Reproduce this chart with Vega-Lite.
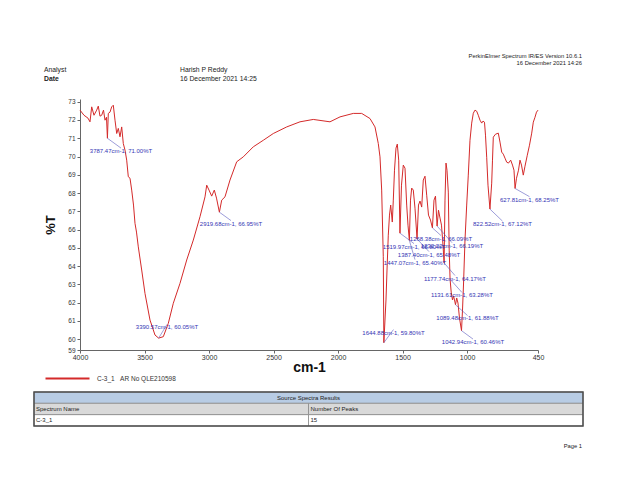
{
  "$schema": "https://vega.github.io/schema/vega-lite/v6.json",
  "width": 458,
  "height": 251,
  "autosize": {"type": "none"},
  "padding": {"left": 80, "top": 99, "right": 102, "bottom": 130},
  "background": "white",
  "config": {
    "view": {"stroke": null},
    "font": "Liberation Sans",
    "axisX": {"labelOverlap": false, "labelFlush": false},
    "axisY": {"labelOverlap": false, "labelFlush": false}
  },
  "datasets": {
    "spectrum": [
      {"wn": 4000, "t": 72.54}, {"wn": 3969, "t": 72.26}, {"wn": 3938, "t": 72.10}, {"wn": 3922.5, "t": 71.90},
      {"wn": 3909.3, "t": 72.72}, {"wn": 3891.5, "t": 72.26}, {"wn": 3870.6, "t": 72.54}, {"wn": 3858.2, "t": 72.76},
      {"wn": 3845, "t": 72.21}, {"wn": 3831.8, "t": 72.26}, {"wn": 3817.8, "t": 72.54}, {"wn": 3806.2, "t": 71.99},
      {"wn": 3794.6, "t": 72.15}, {"wn": 3787.47, "t": 71.00}, {"wn": 3780.6, "t": 72.36}, {"wn": 3767.5, "t": 72.43},
      {"wn": 3754.3, "t": 72.72}, {"wn": 3741.9, "t": 72.81}, {"wn": 3728.7, "t": 71.99}, {"wn": 3715.5, "t": 71.26},
      {"wn": 3703.1, "t": 71.54}, {"wn": 3690, "t": 71.08}, {"wn": 3676.8, "t": 71.62}, {"wn": 3664.4, "t": 70.71},
      {"wn": 3651.2, "t": 70.35}, {"wn": 3638, "t": 69.80}, {"wn": 3625.6, "t": 68.89}, {"wn": 3612.4, "t": 68.81},
      {"wn": 3599.3, "t": 68.16}, {"wn": 3585.3, "t": 67.34}, {"wn": 3573.7, "t": 66.34}, {"wn": 3562.1, "t": 65.86},
      {"wn": 3548.1, "t": 65.05}, {"wn": 3521.8, "t": 63.78}, {"wn": 3496.2, "t": 62.50}, {"wn": 3457.4, "t": 61.04},
      {"wn": 3418.7, "t": 60.22}, {"wn": 3390.57, "t": 60.05}, {"wn": 3354.3, "t": 60.13}, {"wn": 3315.6, "t": 60.86},
      {"wn": 3276.8, "t": 61.96}, {"wn": 3224.9, "t": 63.05}, {"wn": 3172.9, "t": 64.33}, {"wn": 3121.8, "t": 65.42},
      {"wn": 3069.9, "t": 66.70}, {"wn": 3031.1, "t": 67.79}, {"wn": 3017.9, "t": 68.43}, {"wn": 3000.1, "t": 68.16},
      {"wn": 2979.2, "t": 67.83}, {"wn": 2959, "t": 68.16}, {"wn": 2941.9, "t": 67.72}, {"wn": 2919.68, "t": 66.95},
      {"wn": 2901.7, "t": 67.61}, {"wn": 2876.1, "t": 67.79}, {"wn": 2837.4, "t": 68.71}, {"wn": 2785.4, "t": 69.71},
      {"wn": 2734.3, "t": 69.98}, {"wn": 2656.8, "t": 70.53}, {"wn": 2579.2, "t": 70.89}, {"wn": 2501.7, "t": 71.26},
      {"wn": 2397.9, "t": 71.62}, {"wn": 2294.8, "t": 71.90}, {"wn": 2191.7, "t": 72.03}, {"wn": 2062.3, "t": 71.90},
      {"wn": 1984.7, "t": 72.17}, {"wn": 1881.7, "t": 72.36}, {"wn": 1816.6, "t": 72.36}, {"wn": 1752.2, "t": 72.08},
      {"wn": 1713.5, "t": 71.62}, {"wn": 1687.9, "t": 70.71}, {"wn": 1674.7, "t": 69.98}, {"wn": 1661.6, "t": 68.16},
      {"wn": 1649.2, "t": 64.51}, {"wn": 1644.88, "t": 59.80}, {"wn": 1628.2, "t": 62.14}, {"wn": 1620.4, "t": 63.78},
      {"wn": 1610.4, "t": 65.69}, {"wn": 1601.1, "t": 66.79}, {"wn": 1591.8, "t": 67.34}, {"wn": 1579.4, "t": 66.41},
      {"wn": 1571.6, "t": 67.61}, {"wn": 1562.3, "t": 69.25}, {"wn": 1550.7, "t": 70.46}, {"wn": 1540.6, "t": 70.68},
      {"wn": 1529.8, "t": 69.80}, {"wn": 1519.97, "t": 65.80}, {"wn": 1508.1, "t": 68.43}, {"wn": 1494.1, "t": 69.53},
      {"wn": 1480.9, "t": 69.36}, {"wn": 1467.8, "t": 67.34}, {"wn": 1457.7, "t": 66.24}, {"wn": 1447.07, "t": 65.40},
      {"wn": 1438.3, "t": 67.61}, {"wn": 1429, "t": 68.27}, {"wn": 1416.6, "t": 68.16}, {"wn": 1403.4, "t": 67.17},
      {"wn": 1387.4, "t": 65.48}, {"wn": 1376.3, "t": 67.34}, {"wn": 1364.7, "t": 67.56}, {"wn": 1351.5, "t": 67.23},
      {"wn": 1339.1, "t": 68.71}, {"wn": 1325.9, "t": 68.92}, {"wn": 1312.7, "t": 67.88}, {"wn": 1298.8, "t": 66.79},
      {"wn": 1283.3, "t": 66.52}, {"wn": 1268.38, "t": 66.09}, {"wn": 1256.1, "t": 67.61}, {"wn": 1244.5, "t": 67.83},
      {"wn": 1232.22, "t": 66.19}, {"wn": 1221.3, "t": 67.06}, {"wn": 1209.6, "t": 66.63}, {"wn": 1198, "t": 66.24},
      {"wn": 1186.4, "t": 65.15}, {"wn": 1177.74, "t": 64.17}, {"wn": 1170.9, "t": 67.61}, {"wn": 1163.1, "t": 69.64},
      {"wn": 1155.4, "t": 69.25}, {"wn": 1145.3, "t": 68.05}, {"wn": 1138.3, "t": 64.87}, {"wn": 1131.61, "t": 63.28},
      {"wn": 1122.8, "t": 62.57}, {"wn": 1112.8, "t": 62.14}, {"wn": 1105, "t": 62.36}, {"wn": 1097.2, "t": 62.14},
      {"wn": 1089.48, "t": 61.88}, {"wn": 1080.2, "t": 62.25}, {"wn": 1070.1, "t": 61.97}, {"wn": 1058.5, "t": 61.15},
      {"wn": 1042.94, "t": 60.46}, {"wn": 1035.2, "t": 61.59}, {"wn": 1027.5, "t": 62.96}, {"wn": 1015.9, "t": 65.42},
      {"wn": 1002.7, "t": 67.34}, {"wn": 990.3, "t": 68.98}, {"wn": 977.1, "t": 70.89}, {"wn": 963.9, "t": 71.83},
      {"wn": 951.5, "t": 72.37}, {"wn": 938.4, "t": 72.54}, {"wn": 925.2, "t": 72.48}, {"wn": 912.8, "t": 72.26},
      {"wn": 899.6, "t": 71.99}, {"wn": 886.4, "t": 71.83}, {"wn": 876.3, "t": 71.94}, {"wn": 864.7, "t": 71.88},
      {"wn": 857, "t": 71.17}, {"wn": 847.7, "t": 69.96}, {"wn": 837.6, "t": 68.43}, {"wn": 822.52, "t": 67.12},
      {"wn": 808.9, "t": 68.54}, {"wn": 802.7, "t": 69.80}, {"wn": 796.5, "t": 71.06}, {"wn": 779.5, "t": 71.22},
      {"wn": 757.7, "t": 71.28}, {"wn": 744.6, "t": 70.79}, {"wn": 731.4, "t": 70.24}, {"wn": 719, "t": 70.13},
      {"wn": 705.9, "t": 69.91}, {"wn": 692.7, "t": 69.69}, {"wn": 678.7, "t": 69.64}, {"wn": 661.6, "t": 69.80},
      {"wn": 647.7, "t": 69.53}, {"wn": 636.1, "t": 69.25}, {"wn": 627.81, "t": 68.25}, {"wn": 616.7, "t": 68.81},
      {"wn": 601.2, "t": 69.25}, {"wn": 589.6, "t": 69.80}, {"wn": 578, "t": 69.53}, {"wn": 564, "t": 68.98},
      {"wn": 550.8, "t": 69.47}, {"wn": 533, "t": 70.07}, {"wn": 515.9, "t": 70.62}, {"wn": 498.8, "t": 71.28},
      {"wn": 486.4, "t": 71.88}, {"wn": 473.3, "t": 72.15}, {"wn": 461.7, "t": 72.43}, {"wn": 450, "t": 72.54}
    ],
    "peaks": [
      {"wn": 3787.47, "t": 71.00, "lwn": 3682.2, "lt": 70.46, "label": "3787.47cm-1, 71.00%T"},
      {"wn": 3390.57, "t": 60.05, "lwn": 3325.7, "lt": 60.80, "label": "3390.57cm-1, 60.05%T"},
      {"wn": 2919.68, "t": 66.95, "lwn": 2829.6, "lt": 66.49, "label": "2919.68cm-1, 66.95%T"},
      {"wn": 1644.88, "t": 59.80, "lwn": 1570.1, "lt": 60.52, "label": "1644.88cm-1, 59.80%T"},
      {"wn": 1519.97, "t": 65.80, "lwn": 1411.2, "lt": 65.23, "label": "1519.97cm-1, 65.80%T"},
      {"wn": 1447.07, "t": 65.40, "lwn": 1403.4, "lt": 64.35, "label": "1447.07cm-1, 65.40%T"},
      {"wn": 1387.40, "t": 65.48, "lwn": 1294.9, "lt": 64.79, "label": "1387.40cm-1, 65.48%T"},
      {"wn": 1268.38, "t": 66.09, "lwn": 1201.9, "lt": 65.67, "label": "1268.38cm-1, 66.09%T"},
      {"wn": 1232.22, "t": 66.19, "lwn": 1116.6, "lt": 65.28, "label": "1232.22cm-1, 66.19%T"},
      {"wn": 1177.74, "t": 64.17, "lwn": 1093.4, "lt": 63.48, "label": "1177.74cm-1, 64.17%T"},
      {"wn": 1131.61, "t": 63.28, "lwn": 1039.1, "lt": 62.55, "label": "1131.61cm-1, 63.28%T"},
      {"wn": 1089.48, "t": 61.88, "lwn": 996.5, "lt": 61.29, "label": "1089.48cm-1, 61.88%T"},
      {"wn": 1042.94, "t": 60.46, "lwn": 953.9, "lt": 60.00, "label": "1042.94cm-1, 60.46%T"},
      {"wn": 822.52, "t": 67.12, "lwn": 725.2, "lt": 66.46, "label": "822.52cm-1, 67.12%T"},
      {"wn": 627.81, "t": 68.25, "lwn": 515.9, "lt": 67.80, "label": "627.81cm-1, 68.25%T"}
    ],
    "page": [
      {"text": "PerkinElmer Spectrum IR/ES Version 10.6.1", "col": 2, "line": 1},
      {"text": "16 December 2021 14:26", "col": 2, "line": 2},
      {"text": "Analyst", "col": 0, "line": 3},
      {"text": "Date", "col": 0, "line": 4},
      {"text": "Harish P Reddy", "col": 1, "line": 3},
      {"text": "16 December 2021 14:25", "col": 1, "line": 4},
      {"text": "Page 1", "col": 2, "line": 5}
    ],
    "table": [
      {"r0": 0, "r1": 1, "c0": 0, "c1": 2, "text": "Source Spectra Results", "part": "title"},
      {"r0": 1, "r1": 2, "c0": 0, "c1": 1, "text": "Spectrum Name", "part": "head"},
      {"r0": 1, "r1": 2, "c0": 1, "c1": 2, "text": "Number Of Peaks", "part": "head"},
      {"r0": 2, "r1": 3, "c0": 0, "c1": 1, "text": "C-3_1", "part": "body"},
      {"r0": 2, "r1": 3, "c0": 1, "c1": 2, "text": "15", "part": "body"}
    ]
  },
  "layer": [
    {
      "layer": [
        {
          "data": {"name": "spectrum"},
          "mark": {"type": "line", "strokeWidth": 1},
          "encoding": {
            "x": {
              "field": "wn", "type": "quantitative",
              "scale": {"domain": [450, 4000], "reverse": true, "nice": false, "zero": false},
              "axis": {
                "values": [4000, 3500, 3000, 2500, 2000, 1500, 1000, 450], "format": "d", "title": "cm-1",
                "grid": false, "labelFontSize": 7, "labelColor": "#333", "tickSize": 3, "tickColor": "#666",
                "domainColor": "#666", "labelPadding": 0, "labelFlush": false, "labelOverlap": false,
                "titleFontSize": 14, "titleFontWeight": "bold", "titleColor": "#111", "titlePadding": 0
              }
            },
            "y": {
              "field": "t", "type": "quantitative",
              "scale": {"domain": [59.4, 73.15], "nice": false, "zero": false},
              "axis": {
                "values": [59.4, 60, 61, 62, 63, 64, 65, 66, 67, 68, 69, 70, 71, 72, 73], "format": ".0f", "title": "%T",
                "grid": false, "labelFontSize": 6.5, "labelColor": "#333", "tickSize": 3, "tickColor": "#666",
                "domainColor": "#666", "labelPadding": 2, "labelFlush": false, "labelOverlap": false,
                "titleFontSize": 13, "titleFontWeight": "bold", "titleColor": "#111", "titlePadding": 10
              }
            },
            "color": {
              "datum": "C-3_1\u00a0\u00a0\u00a0AR No QLE210598", "type": "nominal",
              "scale": {"range": ["#d42a2a"]},
              "legend": {
                "orient": "none", "legendX": -36, "legendY": 256, "title": null, "padding": 0,
                "symbolType": "stroke", "symbolSize": 1936, "symbolStrokeWidth": 2.2,
                "labelFontSize": 6.5, "labelColor": "#333", "labelOffset": 6
              }
            }
          }
        },
        {
          "data": {"name": "peaks"},
          "mark": {"type": "rule", "color": "#5a5ac0", "strokeWidth": 0.6},
          "encoding": {
            "x": {
              "field": "wn", "type": "quantitative",
              "axis": {
                "values": [4000, 3500, 3000, 2500, 2000, 1500, 1000, 450], "format": "d", "title": "cm-1",
                "grid": false, "labelFontSize": 7, "labelColor": "#333", "tickSize": 3, "tickColor": "#666",
                "domainColor": "#666", "labelPadding": 0, "labelFlush": false, "labelOverlap": false,
                "titleFontSize": 14, "titleFontWeight": "bold", "titleColor": "#111", "titlePadding": 0
              }
            },
            "y": {
              "field": "t", "type": "quantitative",
              "axis": {
                "values": [59.4, 60, 61, 62, 63, 64, 65, 66, 67, 68, 69, 70, 71, 72, 73], "format": ".0f", "title": "%T",
                "grid": false, "labelFontSize": 6.5, "labelColor": "#333", "tickSize": 3, "tickColor": "#666",
                "domainColor": "#666", "labelPadding": 2, "labelFlush": false, "labelOverlap": false,
                "titleFontSize": 13, "titleFontWeight": "bold", "titleColor": "#111", "titlePadding": 10
              }
            },
            "x2": {"field": "lwn"},
            "y2": {"field": "lt"}
          }
        },
        {
          "data": {"name": "peaks"},
          "mark": {"type": "text", "align": "center", "baseline": "top", "fontSize": 6, "color": "#3434b4"},
          "encoding": {
            "x": {
              "field": "lwn", "type": "quantitative",
              "axis": {
                "values": [4000, 3500, 3000, 2500, 2000, 1500, 1000, 450], "format": "d", "title": "cm-1",
                "grid": false, "labelFontSize": 7, "labelColor": "#333", "tickSize": 3, "tickColor": "#666",
                "domainColor": "#666", "labelPadding": 0, "labelFlush": false, "labelOverlap": false,
                "titleFontSize": 14, "titleFontWeight": "bold", "titleColor": "#111", "titlePadding": 0
              }
            },
            "y": {
              "field": "lt", "type": "quantitative",
              "axis": {
                "values": [59.4, 60, 61, 62, 63, 64, 65, 66, 67, 68, 69, 70, 71, 72, 73], "format": ".0f", "title": "%T",
                "grid": false, "labelFontSize": 6.5, "labelColor": "#333", "tickSize": 3, "tickColor": "#666",
                "domainColor": "#666", "labelPadding": 2, "labelFlush": false, "labelOverlap": false,
                "titleFontSize": 13, "titleFontWeight": "bold", "titleColor": "#111", "titlePadding": 10
              }
            },
            "text": {"field": "label"}
          }
        }
      ]
    },
    {
      "data": {"name": "page"},
      "encoding": {
        "x": {"field": "col", "type": "quantitative", "scale": {"domain": [0, 1, 2], "range": [-36, 100, 502], "nice": false, "zero": false}, "axis": null},
        "y": {"field": "line", "type": "quantitative", "scale": {"domain": [1, 2, 3, 4, 5], "range": [-43.5, -36.5, -29, -20, 347], "nice": false, "zero": false}, "axis": null},
        "text": {"field": "text"}
      },
      "layer": [
        {
          "transform": [{"filter": "datum.col < 2 && datum.text != 'Date'"}],
          "mark": {"type": "text", "align": "left", "baseline": "middle", "fontSize": 6.8, "color": "#222"}
        },
        {
          "transform": [{"filter": "datum.text == 'Date'"}],
          "mark": {"type": "text", "align": "left", "baseline": "middle", "fontSize": 6.8, "fontWeight": "bold", "color": "#222"}
        },
        {
          "transform": [{"filter": "datum.col == 2"}],
          "mark": {"type": "text", "align": "right", "baseline": "middle", "fontSize": 5.8, "color": "#222"}
        }
      ]
    },
    {
      "data": {"name": "table"},
      "encoding": {
        "x": {"field": "c0", "type": "quantitative", "scale": {"domain": [0, 2], "range": [-46, 503], "nice": false, "zero": false}, "axis": null},
        "y": {"field": "r0", "type": "quantitative", "scale": {"domain": [0, 3], "range": [293, 327], "nice": false, "zero": false}, "axis": null}
      },
      "layer": [
        {
          "mark": {"type": "rect", "stroke": "#8a8a8a", "strokeWidth": 0.8},
          "encoding": {
            "x2": {"field": "c1"},
            "y2": {"field": "r1"},
            "color": {"field": "part", "type": "nominal", "scale": {"domain": ["title", "head", "body"], "range": ["#b8cce4", "#d9d9d9", "#ffffff"]}, "legend": null}
          }
        },
        {
          "mark": {"type": "rect", "filled": false, "color": "#4d4d4d", "strokeWidth": 1.5},
          "encoding": {
            "x": {"aggregate": "min", "field": "c0", "type": "quantitative"},
            "x2": {"aggregate": "max", "field": "c1"},
            "y": {"aggregate": "min", "field": "r0", "type": "quantitative"},
            "y2": {"aggregate": "max", "field": "r1"}
          }
        },
        {
          "transform": [{"filter": "datum.part != 'title'"}],
          "mark": {"type": "text", "align": "left", "baseline": "top", "dx": 2, "dy": 2.5, "fontSize": 6, "color": "#222"},
          "encoding": {"text": {"field": "text"}}
        },
        {
          "transform": [{"filter": "datum.part == 'title'"}],
          "mark": {"type": "text", "align": "center", "baseline": "top", "dy": 2.5, "fontSize": 6, "color": "#222"},
          "encoding": {"x": {"datum": 1}, "text": {"field": "text"}}
        }
      ]
    }
  ],
  "resolve": {"scale": {"x": "independent", "y": "independent", "color": "independent"}}
}
